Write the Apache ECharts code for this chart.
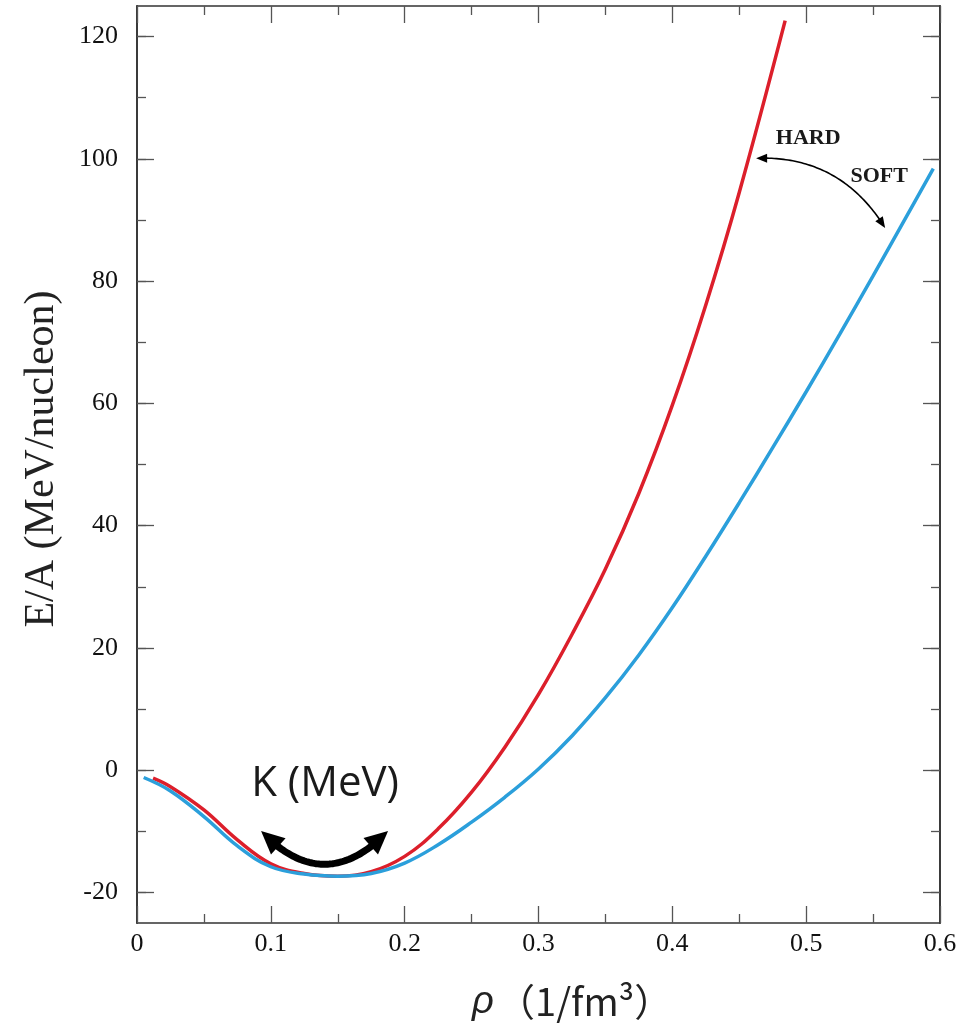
<!DOCTYPE html>
<html><head><meta charset="utf-8">
<script src="https://cdn.jsdelivr.net/npm/echarts@6/dist/echarts.min.js"></script>
<style>html,body{margin:0;padding:0;background:#fff}#c{width:980px;height:1024px}</style>
</head><body><div id="c"></div>
<script>
// ---- data ----
const rhoHard = [0.012,0.025,0.05,0.075,0.1,0.125,0.15,0.175,0.2,0.225,0.25,0.275,0.3,0.325,0.35,0.375,0.4,0.425,0.45,0.4843];
const eHard   = [-1.3,-2.7,-6.5,-11.4,-15.3,-16.9,-17.35,-16.6,-14.1,-9.6,-3.6,3.8,12.4,22.2,32.9,45.3,59.7,76.1,94.5,122.6];
const rhoSoft = [0.005,0.025,0.05,0.075,0.1,0.125,0.15,0.175,0.2,0.225,0.25,0.275,0.3,0.325,0.35,0.375,0.4,0.425,0.45,0.475,0.5,0.525,0.55,0.575,0.595];
const eSoft   = [-1.2,-3.4,-7.6,-12.4,-15.8,-17.0,-17.35,-16.9,-15.2,-12.2,-8.5,-4.4,0.2,5.6,11.85,18.85,26.6,35.0,43.75,52.75,61.9,71.3,80.85,90.6,98.4];
const xTickLabels = ['0','0.1','0.2','0.3','0.4','0.5','0.6'];
const yMajorTicks = [-20,0,20,40,60,80,100,120];
const yMinorTicks = [-20,-10,0,10,20,30,40,50,60,70,80,90,100,110,120];
const hardName = 'HARD', softName = 'SOFT', kLabel = 'K (MeV)';
const yName = 'E/A (MeV/nucleon)';

// ---- chart ----
const chart = echarts.init(document.getElementById('c'));
const zip = (a,b) => a.map((v,i)=>[v,b[i]]);
const serif = 'Liberation Serif';
const frame = {color:'#333', width:1.6};
const tickStyle = {color:'#555', width:1.3};

function yAx(pos, ticks, len, labels){
  return {type:'value', min:-25, max:125, position:pos, offset:0,
    axisLine:{show:true, onZero:false, lineStyle:frame},
    axisTick:{show:true, inside:true, length:len, customValues:ticks, lineStyle:tickStyle},
    axisLabel:{show:labels, customValues:yMajorTicks, fontFamily:serif, fontSize:26, color:'#111', margin:19,
      formatter:v=>String(v)},
    splitLine:{show:false}};
}
function xAx(pos, labels){
  return {type:'value', min:0, max:0.6, interval:0.1, position:pos,
    axisLine:{show:true, onZero:false, lineStyle:frame},
    axisTick:{show:true, inside:true, length:17, lineStyle:tickStyle},
    minorTick:{show:true, splitNumber:2, length:9, lineStyle:tickStyle},
    axisLabel:{show:labels, fontFamily:serif, fontSize:26, color:'#111', margin:8,
      formatter:v=>xTickLabels[Math.round(v*10)]},
    splitLine:{show:false}, minorSplitLine:{show:false}};
}

chart.setOption({
  backgroundColor:'#fff',
  animation:false,
  grid:{left:137, top:6, right:40, bottom:101, containLabel:false},
  xAxis:[xAx('bottom', true), xAx('top', false)],
  yAxis:[yAx('left', yMajorTicks, 17, true), yAx('left', yMinorTicks, 9, false),
         yAx('right', yMajorTicks, 17, false), yAx('right', yMinorTicks, 9, false)],
  series:[
    {name:hardName, type:'line', data:zip(rhoHard,eHard), showSymbol:false, smooth:0.4,
     lineStyle:{color:'#dc1f2b', width:3.5}, xAxisIndex:0, yAxisIndex:0, z:2},
    {name:softName, type:'line', data:zip(rhoSoft,eSoft), showSymbol:false, smooth:0.4,
     lineStyle:{color:'#2b9fdb', width:3.5}, xAxisIndex:0, yAxisIndex:0, z:3}
  ]
});

// ---- annotations (anchored in data coordinates) ----
const px = p => chart.convertToPixel({xAxisIndex:0, yAxisIndex:0}, p);
function bez(p0,c,p2,t){const u=1-t;return [u*u*p0[0]+2*u*t*c[0]+t*t*p2[0], u*u*p0[1]+2*u*t*c[1]+t*t*p2[1]];}
function curvedArrow(d0,dc,d2,lw,L,W){
  const p0=px(d0), c=px(dc), p2=px(d2);
  let len=0, prev=p0; for(let i=1;i<=50;i++){const q=bez(p0,c,p2,i/50);len+=Math.hypot(q[0]-prev[0],q[1]-prev[1]);prev=q;}
  const t0 = (L*0.7)/len;
  const pts=[]; for(let i=0;i<=60;i++){pts.push(bez(p0,c,p2,t0+(1-2*t0)*i/60));}
  const els=[{type:'polyline', shape:{points:pts, smooth:0}, style:{stroke:'#000', lineWidth:lw, fill:null}, z:10}];
  const head=(tip,from)=>{const dx=tip[0]-from[0],dy=tip[1]-from[1],n=Math.hypot(dx,dy),ux=dx/n,uy=dy/n;
    const bx=tip[0]-ux*L, by=tip[1]-uy*L;
    return {type:'polygon', shape:{points:[tip,[bx-uy*W,by+ux*W],[bx+uy*W,by-ux*W]]}, style:{fill:'#000'}, z:11};};
  const tl=L/len;
  els.push(head(p0,bez(p0,c,p2,tl)));
  els.push(head(p2,bez(p0,c,p2,1-tl)));
  return els;
}
function label(text, d, font){
  const p=px(d);
  return {type:'text', x:p[0], y:p[1], z:12, style:{text:text, font:font, fill:'#1a1a1a', align:'center', verticalAlign:'middle', textAlign:'center', textVerticalAlign:'middle'}};
}
const g = [];
g.push(...curvedArrow([0.0927,-9.97],[0.1398,-20.8],[0.1876,-9.97], 7, 23, 11));
g.push(...curvedArrow([0.4626,100.1],[0.5254,100.6],[0.559,88.7], 1.6, 11, 4.5));
g.push(label(hardName,[0.5015,103.4],'bold 22px "Liberation Serif"'));
g.push(label(softName,[0.5546,97.1],'bold 22px "Liberation Serif"'));
g.push(label(kLabel,[0.1405,-2.3],'42px "Open Sans"'));
g.push({type:'text', x:42, y:459, rotation:Math.PI/2, z:12,
  style:{text:yName, font:'42px "Liberation Serif"', fill:'#222', align:'center', verticalAlign:'middle', textAlign:'center', textVerticalAlign:'middle'}});
g.push({type:'text', x:472, y:1002, z:12,
  style:{text:'{g|ρ} {a|（1/fm³）}', align:'left', verticalAlign:'middle', textAlign:'left', textVerticalAlign:'middle',
    rich:{g:{font:'italic 38px "Liberation Sans"', fill:'#222'}, a:{font:'38px "Noto Sans CJK JP"', fill:'#222'}}}});
chart.setOption({graphic:{elements:g}});
</script>
</body></html>
